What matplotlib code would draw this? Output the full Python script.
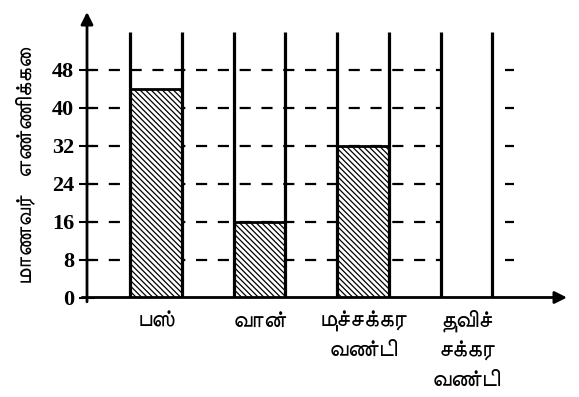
import numpy as np
import matplotlib
matplotlib.use("Agg")
import matplotlib.pyplot as plt
from matplotlib import font_manager
from matplotlib.ft2font import FT2Font

# Vehicles used by students to come to school
categories = ["பஸ்", "வான்", "முச்சக்கர\nவண்டி", "துவிச்\nசக்கர\nவண்டி"]
students = [44, 16, 32, 0]
y_ticks = [0, 8, 16, 24, 32, 40, 48]
y_label = "மாணவர்   எண்ணிக்கை"

post_height = 56      # height of the column guide lines
y_top = 60.2          # top of the vertical axis arrow
bar_width = 0.5


def find_tamil_family():
    """Return an installed family that has Tamil glyphs, sans-serif first."""
    found = []
    for entry in font_manager.fontManager.ttflist:
        try:
            if 0x0B95 in FT2Font(entry.fname).get_charmap():
                found.append(entry.name)
        except Exception:
            continue
    if not found:
        return "DejaVu Sans"
    found.sort(key=lambda n: (("Sans" not in n), ("UI" in n), n))
    return found[0]


tamil = [find_tamil_family(), "DejaVu Sans"]
plt.rcParams["hatch.linewidth"] = 0.9
plt.rcParams["lines.scale_dashes"] = False

fig = plt.figure(figsize=(5.79, 3.97), dpi=100)
ax = fig.add_axes([87 / 579, 99.5 / 397, 480 / 579, 285.5 / 397])

x = np.arange(len(categories))
ax.set_xlim(-0.667, 3.97)
ax.set_ylim(0, y_top)

# dashed reference lines (the last column is left blank)
left_edges = x - bar_width / 2
right_edges = x + bar_width / 2
ax.hlines(y_ticks[1:], -0.667, left_edges[-1], colors="black",
          linestyles=(0, (8, 7.7)), linewidth=1.6, zorder=1)
ax.hlines(y_ticks[1:], right_edges[-1] + 0.12, right_edges[-1] + 0.21,
          colors="black", linewidth=1.6, zorder=1)

# hatched bars
ax.bar(x[:3], students[:3], width=bar_width, facecolor="white",
       edgecolor="black", hatch="\\\\\\\\\\\\", linewidth=2.0, zorder=3)

# column guide lines
ax.vlines(np.concatenate([left_edges, right_edges]), 0, post_height,
          colors="black", linewidth=2.3, zorder=4)

# axes drawn as arrows
for sp in ax.spines.values():
    sp.set_visible(False)
arrow = dict(arrowstyle="-|>", lw=2.0, color="black", mutation_scale=18,
             shrinkA=0, shrinkB=0)
ax.annotate("", xy=(0, 1), xytext=(0, -0.015), xycoords="axes fraction",
            arrowprops=arrow, zorder=5)
ax.annotate("", xy=(1, 0), xytext=(-0.01, 0), xycoords="axes fraction",
            arrowprops=arrow, zorder=5)

ax.set_yticks(y_ticks)
ax.set_yticklabels([str(v) for v in y_ticks], family="Liberation Serif",
                   fontsize=16, weight="bold")
ax.tick_params(axis="y", direction="inout", length=11.5, width=1.5, pad=3.5)

ax.set_xticks(x)
ax.set_xticklabels(categories, family=tamil, fontsize=17,
                   linespacing=1.36, va="top")
ax.tick_params(axis="x", length=0, pad=8)

fig.text(25 / 579, 1 - 165 / 397, y_label, rotation=90, family=tamil,
         fontsize=16.5, ha="center", va="center")

fig.savefig("out.png", dpi=100, facecolor="white")
